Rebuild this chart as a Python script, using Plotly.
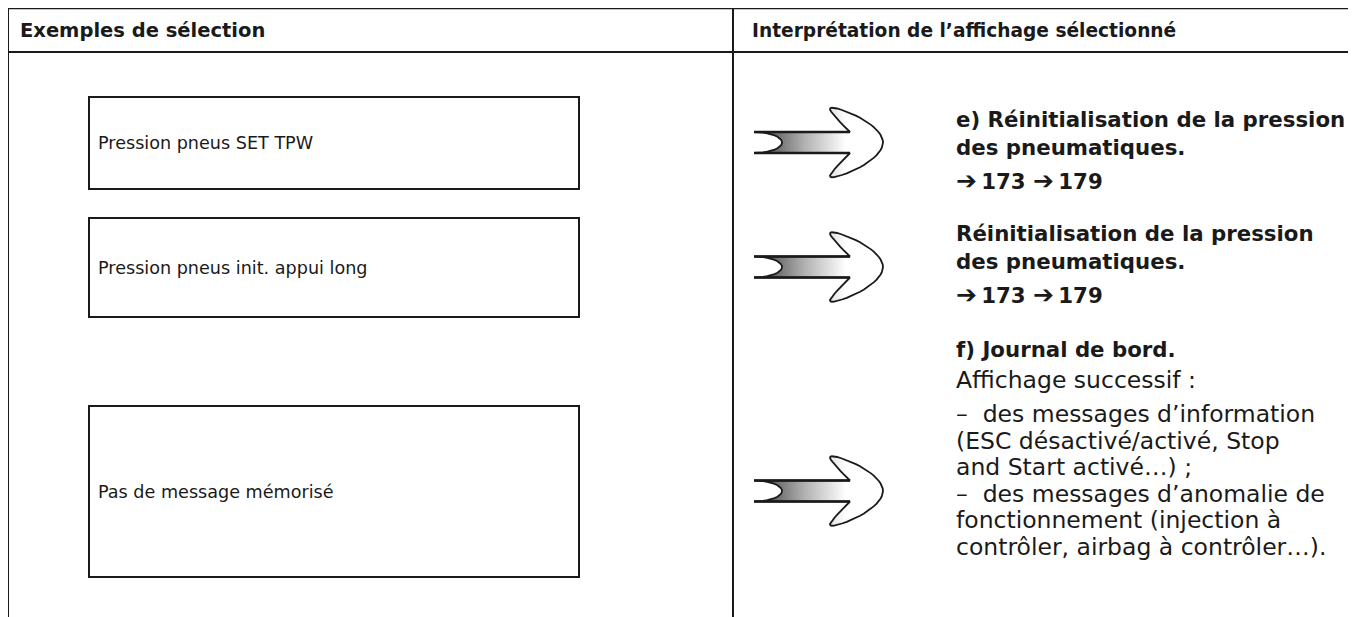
import numpy as np
import plotly.graph_objects as go

# ---------------- content ----------------
headers = ["Exemples de sélection", "Interprétation de l’affichage sélectionné"]
selection_labels = [
    "Pression pneus SET TPW",
    "Pression pneus init. appui long",
    "Pas de message mémorisé",
]
ARW = "<span style='font-size:25px'>➔</span>"
# interpretation lines: (text, bold)
interp_lines = [
    ("e) Réinitialisation de la pression", True),
    ("des pneumatiques.", True),
    (ARW + "\u2009173 " + ARW + "\u2009179", True),
    ("Réinitialisation de la pression", True),
    ("des pneumatiques.", True),
    (ARW + "\u2009173 " + ARW + "\u2009179", True),
    ("f) Journal de bord.", True),
    ("Affichage successif :", False),
    ("–  des messages d’information", False),
    ("(ESC désactivé/activé, Stop", False),
    ("and Start activé…) ;", False),
    ("–  des messages d’anomalie de", False),
    ("fonctionnement (injection à", False),
    ("contrôler, airbag à contrôler…).", False),
]

# ---------------- layout (screen pixel space; page body has an 8px margin) ----------------
W, H = 1356, 617
OFF = 8
INK = "#1a1a1a"
FONT = "DejaVu Sans"
table_left, table_top, header_bottom, col_div = 8, 8, 52, 733
box_x0, box_x1 = 89, 579
box_spans = [(97, 189), (218, 317), (406, 577)]
interp_y = [119, 147, 180, 233, 261, 294, 349, 380, 414, 441, 467, 494, 520, 547]
interp_x = 954
arrow_x0 = 754

fig = go.Figure()

shapes = []
def line(x0, y0, x1, y1, w=2):
    shapes.append(dict(type="line", x0=x0, y0=y0, x1=x1, y1=y1, xref="x", yref="y",
                       line=dict(color=INK, width=w)))

line(table_left, table_top, W, table_top, 2.5)
line(table_left, header_bottom, W, header_bottom, 2)
line(table_left, table_top, table_left, H, 2)
line(col_div, table_top, col_div, H, 2)
for (y0, y1) in box_spans:
    shapes.append(dict(type="rect", x0=box_x0, y0=y0, x1=box_x1, y1=y1, xref="x", yref="y",
                       line=dict(color=INK, width=2), fillcolor="rgba(0,0,0,0)"))

annotations = []
annotations.append(dict(x=18, y=30, text=headers[0], showarrow=False, xanchor="left", yanchor="middle",
                        font=dict(family=FONT, size=19.5, color=INK, weight=700), xref="x", yref="y"))
annotations.append(dict(x=750, y=30, text=headers[1], showarrow=False, xanchor="left", yanchor="middle",
                        font=dict(family=FONT, size=18.6, color=INK, weight=700), xref="x", yref="y"))
for lbl, (y0, y1) in zip(selection_labels, box_spans):
    annotations.append(dict(x=96, y=(y0 + y1) / 2, text=lbl, showarrow=False, xanchor="left",
                            yanchor="middle", font=dict(family=FONT, size=17.6, color=INK),
                            xref="x", yref="y"))
for (txt, bold), y in zip(interp_lines, interp_y):
    annotations.append(dict(x=interp_x, y=y, text=txt, showarrow=False, xanchor="left",
                            yanchor="middle",
                            font=dict(family=FONT, size=21.3 if bold else 23.5, color=INK,
                                      weight=700 if bold else 400),
                            xref="x", yref="y"))

# ---------------- arrow glyph template (local geometry) ----------------
def bez(p0, p1, p2, p3, n=16):
    t = np.linspace(0, 1, n)[:, None]
    p0, p1, p2, p3 = map(np.array, (p0, p1, p2, p3))
    return ((1 - t) ** 3) * p0 + 3 * ((1 - t) ** 2) * t * p1 + 3 * (1 - t) * t ** 2 * p2 + t ** 3 * p3

def arrow_outline():
    hs = 10.5
    pts = []
    tt = np.linspace(-np.pi / 2, np.pi / 2, 20)
    pts.append(np.c_[28 * np.cos(tt), hs * np.sin(tt)])   # tail notch
    pts.append(np.array([[96, hs]]))                       # shaft bottom edge
    pts.append(bez((96, hs), (88, 18), (80, 27), (77, 31), 8))
    pts.append(bez((77, 31), (74, 35), (78, 35.5), (83, 34), 6))
    pts.append(bez((83, 34), (108, 27), (129, 12), (129, 0), 16))
    pts.append(bez((129, 0), (129, -12), (108, -27), (83, -34), 16))
    pts.append(bez((83, -34), (78, -35.5), (74, -35), (77, -31), 6))
    pts.append(bez((77, -31), (80, -27), (88, -18), (96, -hs), 8))
    pts.append(np.array([[0, -hs]]))
    return np.vstack(pts)

shape_pts = arrow_outline()
for (y0, y1) in box_spans:
    cy = (y0 + y1) / 2 - 0.5
    xs = shape_pts[:, 0] + arrow_x0
    ys = shape_pts[:, 1] + cy
    fig.add_trace(go.Scatter(
        x=xs, y=ys, mode="lines", fill="toself",
        fillgradient=dict(type="horizontal",
                          colorscale=[[0, "#4a4a4a"], [0.5, "#b0b0b0"], [1, "#ffffff"]],
                          start=arrow_x0 + 8, stop=arrow_x0 + 92),
        line=dict(color=INK, width=1.8), hoverinfo="skip", showlegend=False))
    for sy in (-10.5, 10.5):
        fig.add_trace(go.Scatter(x=[arrow_x0, arrow_x0 + 96], y=[cy + sy, cy + sy], mode="lines",
                                 line=dict(color=INK, width=2.6), hoverinfo="skip", showlegend=False))

fig.update_layout(
    width=W - OFF, height=H - OFF, margin=dict(l=0, r=0, t=0, b=0),
    paper_bgcolor="white", plot_bgcolor="white",
    xaxis=dict(range=[OFF, W], visible=False, fixedrange=True),
    yaxis=dict(range=[H, OFF], visible=False, fixedrange=True),
    shapes=shapes, annotations=annotations,
)
fig.write_html("out.html")
